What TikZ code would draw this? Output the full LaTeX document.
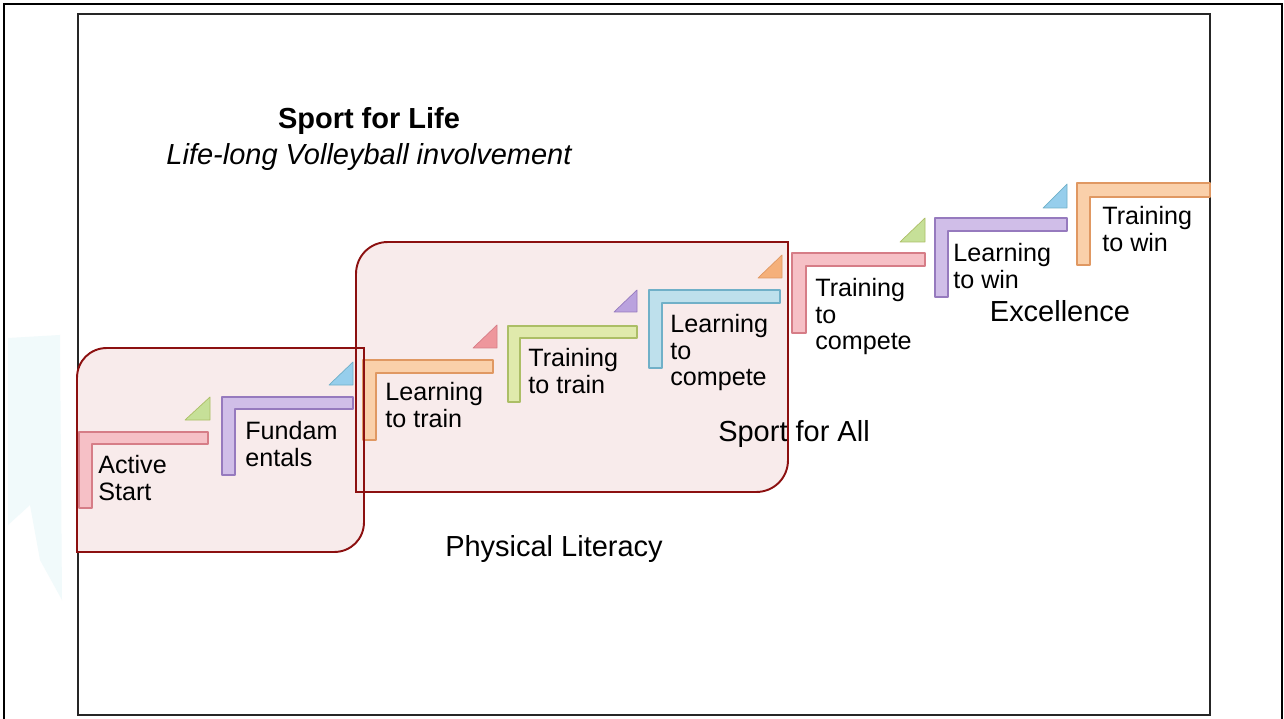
\documentclass[tikz,border=0pt]{standalone}
\usepackage{fontspec}
\setmainfont{Liberation Sans}

\definecolor{rimred}{RGB}{140,16,16}
\definecolor{regionfill}{RGB}{248,235,235}
\definecolor{pinkstep}{RGB}{246,192,198}
\definecolor{pinkedge}{RGB}{214,125,135}
\definecolor{purplestep}{RGB}{208,190,232}
\definecolor{purpleedge}{RGB}{150,122,190}
\definecolor{orangestep}{RGB}{250,208,170}
\definecolor{orangeedge}{RGB}{224,152,98}
\definecolor{greenstep}{RGB}{224,234,172}
\definecolor{greenedge}{RGB}{172,190,102}
\definecolor{bluestep}{RGB}{190,224,236}
\definecolor{blueedge}{RGB}{112,176,200}
\definecolor{greentip}{RGB}{198,224,152}
\definecolor{bluetip}{RGB}{150,206,236}
\definecolor{redtip}{RGB}{238,150,156}
\definecolor{purpletip}{RGB}{186,162,222}
\definecolor{orangetip}{RGB}{245,176,122}
\definecolor{faintcyan}{RGB}{241,250,251}

\tikzset{
  stepbar/.style = {line width = 0.6pt, line join = round},
  steptip/.style = {line width = 0.4pt, line join = round},
  steplabel/.style = {anchor = north west, inner sep = 0pt, align = left,
    font = \fontsize{14.3}{15.2}\selectfont},
  phase/.style = {inner sep = 0pt, font = \fontsize{16.5}{18}\selectfont},
  region/.style = {draw = rimred, line width = 1.1pt}
}

\begin{document}
\begin{tikzpicture}[x = 0.02cm, y = -0.02cm]
    \useasboundingbox (0, 0) rectangle (1284, 719);
    \fill[white] (0, 0) rectangle (1284, 719);
    % frames
    \draw[line width = 1.6pt] (4, 719) -- (4, 4) -- (1282, 4) -- (1282, 719);
    \draw[line width = 1.1pt, black!85] (78, 14) rectangle (1210, 715);
    \fill[faintcyan] (8, 338) -- (60, 335) -- (62, 600) -- (40, 560) -- (30, 505) -- (8, 525) -- cycle;
    % regions
    \fill[regionfill] (77, 552) -- (77, 378) .. controls (77, 361) and (90, 348) .. (107, 348)
      -- (364, 348) -- (364, 522) .. controls (364, 539) and (351, 552) .. (334, 552) -- cycle;
    \fill[regionfill] (356, 492) -- (356, 274) .. controls (356, 256) and (370, 242) .. (388, 242)
      -- (788, 242) -- (788, 460) .. controls (788, 478) and (774, 492) .. (756, 492) -- cycle;
    % steps
    \filldraw[stepbar, fill = pinkstep, draw = pinkedge] (79, 432) -- (208, 432) -- (208, 444) -- (92, 444) -- (92, 508) -- (79, 508) -- cycle;
    \filldraw[steptip, fill = greentip, draw = greenedge] (185, 420) -- (210, 420) -- (210, 397) -- cycle;
    \filldraw[stepbar, fill = purplestep, draw = purpleedge] (222, 397) -- (353, 397) -- (353, 409) -- (235, 409) -- (235, 475) -- (222, 475) -- cycle;
    \filldraw[steptip, fill = bluetip, draw = blueedge] (329, 385) -- (353, 385) -- (353, 362) -- cycle;
    \filldraw[stepbar, fill = orangestep, draw = orangeedge] (363, 360) -- (493, 360) -- (493, 373) -- (376, 373) -- (376, 440) -- (363, 440) -- cycle;
    \filldraw[steptip, fill = redtip, draw = pinkedge] (473, 348) -- (497, 348) -- (497, 325) -- cycle;
    \filldraw[stepbar, fill = greenstep, draw = greenedge] (508, 326) -- (637, 326) -- (637, 338) -- (520, 338) -- (520, 402) -- (508, 402) -- cycle;
    \filldraw[steptip, fill = purpletip, draw = purpleedge] (614, 312) -- (637, 312) -- (637, 290) -- cycle;
    \filldraw[stepbar, fill = bluestep, draw = blueedge] (649, 290) -- (780, 290) -- (780, 303) -- (662, 303) -- (662, 368) -- (649, 368) -- cycle;
    \filldraw[steptip, fill = orangetip, draw = orangeedge] (758, 278) -- (782, 278) -- (782, 255) -- cycle;
    \filldraw[stepbar, fill = pinkstep, draw = pinkedge] (792, 253) -- (925, 253) -- (925, 266) -- (806, 266) -- (806, 333) -- (792, 333) -- cycle;
    \filldraw[steptip, fill = greentip, draw = greenedge] (900, 242) -- (925, 242) -- (925, 218) -- cycle;
    \filldraw[stepbar, fill = purplestep, draw = purpleedge] (935, 218) -- (1067, 218) -- (1067, 231) -- (948, 231) -- (948, 297) -- (935, 297) -- cycle;
    \filldraw[steptip, fill = bluetip, draw = blueedge] (1043, 208) -- (1067, 208) -- (1067, 184) -- cycle;
    \filldraw[stepbar, fill = orangestep, draw = orangeedge] (1077, 183) -- (1210, 183) -- (1210, 197) -- (1090, 197) -- (1090, 265) -- (1077, 265) -- cycle;
    % step labels
    \node[steplabel] (active start) at (98, 455) {Active\\Start};
    \node[steplabel] (fundamentals) at (245, 421) {Fundam\\entals};
    \node[steplabel] (learning to train) at (385, 382) {Learning\\to train};
    \node[steplabel] (training to train) at (528, 348) {Training\\to train};
    \node[steplabel] (learning to compete) at (670, 314) {Learning\\to\\compete};
    \node[steplabel] (training to compete) at (815, 278) {Training\\to\\compete};
    \node[steplabel] (learning to win) at (953, 243) {Learning\\to win};
    \node[steplabel] (training to win) at (1102, 206) {Training\\to win};
    % titles and phases
    \node[phase] (sport for life) at (369, 121) {\bfseries Sport for Life};
    \node[phase] (life-long) at (369, 157) {\itshape Life-long Volleyball involvement};
    \node[phase] (sport for all) at (794, 434) {Sport for All};
    \node[phase] (excellence) at (1060, 311) {Excellence};
    \node[phase] (physical literacy) at (554, 549) {Physical Literacy};
    % region borders
    \draw[region] (77, 552) -- (77, 378) .. controls (77, 361) and (90, 348) .. (107, 348)
      -- (364, 348) -- (364, 522) .. controls (364, 539) and (351, 552) .. (334, 552) -- cycle;
    \draw[region] (356, 492) -- (356, 274) .. controls (356, 256) and (370, 242) .. (388, 242)
      -- (788, 242) -- (788, 460) .. controls (788, 478) and (774, 492) .. (756, 492) -- cycle;
\end{tikzpicture}
\end{document}
